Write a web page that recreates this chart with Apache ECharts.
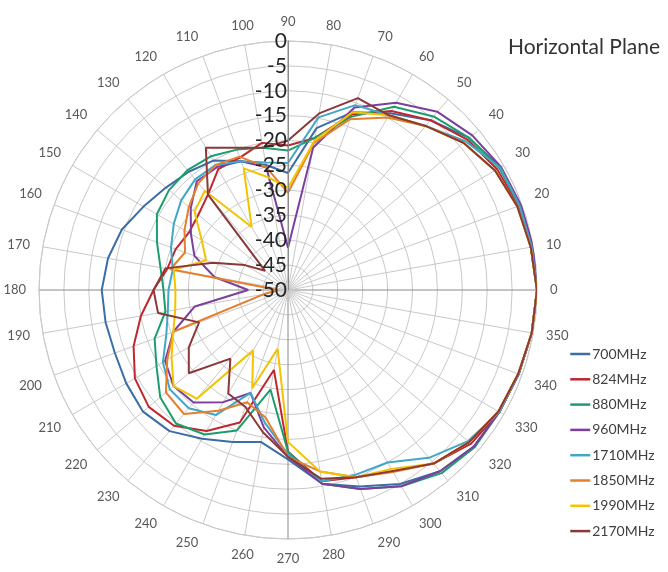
<!DOCTYPE html>
<html><head><meta charset="utf-8">
<script src="https://cdn.jsdelivr.net/npm/echarts@6/dist/echarts.min.js"></script>
<style>html,body{margin:0;padding:0;background:#fff}#c{width:668px;height:572px}</style>
</head><body><div id="c"></div>
<script>
const angles = [0,10,20,30,40,50,60,70,80,90,100,110,120,130,140,150,160,170,180,190,200,210,220,230,240,250,260,270,280,290,300,310,320,330,340,350];
const seriesNames = ['700MHz','824MHz','880MHz','960MHz','1710MHz','1850MHz','1990MHz','2170MHz'];
const v700  = [0,0,-0.5,-0.8,-2.5,-5.5,-9,-12,-17,-26.5,-24.5,-22.5,-20,-19,-18,-16.5,-14.5,-13.3,-12.6,-12.8,-13,-12.5,-12,-13,-15.5,-17.5,-19,-16,-10.5,-8,-5,-2.5,-1.2,-1,-0.7,-0.3];
const v824  = [0,-0.5,-0.7,-1.5,-3,-5.5,-8.5,-12.5,-19,-21,-20,-21.7,-22,-25,-26.5,-27,-26,-25.4,-23,-20,-17,-14.5,-13.5,-14.4,-17.3,-21.7,-33.7,-17.5,-11,-10,-8,-4.5,-2,-1,-0.7,-0.3];
const v880  = [0,-0.5,-0.5,-1,-2.5,-4.5,-7.5,-13,-19,-22,-21,-20,-19,-18.6,-18.8,-19.6,-22,-24,-25,-25,-21.5,-19.5,-16.5,-15,-16.5,-20,-29.7,-17.5,-10.5,-7.5,-4.5,-2,-1,-1,-0.7,-0.3];
const v960  = [0,0,-0.2,-0.6,-1.7,-3.3,-6.6,-11,-21,-41.5,-25,-22.5,-21.5,-21.5,-24.5,-27.5,-30,-35,-42,-31,-25.5,-21.5,-20,-20.5,-24,-28,-22,-16.5,-10.5,-7.5,-4.5,-2.5,-1.2,-1,-0.7,-0.3];
const v1710 = [0,-0.3,-0.5,-0.8,-3.5,-7,-9.5,-10.5,-14.8,-24.5,-24,-22.5,-21,-21,-22,-23.5,-25,-26.5,-26,-25.5,-24,-21,-19,-19,-21,-28,-23,-17,-11,-10.5,-10,-6,-2.8,-1,-0.7,-0.3];
const v1850 = [0,-0.5,-1,-2,-4,-7,-10,-13.5,-20,-30.5,-25,-21.5,-21,-22,-24,-26,-28,-26,-48,-45,-25.5,-22,-18,-17.5,-22,-26,-24,-16.5,-13,-10,-7.8,-4.5,-2.5,-1.2,-0.8,-0.3];
const v1990 = [0,-0.5,-1,-2,-4,-7,-9.5,-12,-19.6,-29.5,-27,-24,-35.4,-24,-25.5,-30,-32.5,-26.7,-27.4,-27,-25.5,-23,-20,-21.5,-36,-29,-38,-19.5,-13,-10,-8.5,-4.5,-2.5,-1.2,-0.8,-0.3];
const v2170 = [0,-0.5,-1,-2,-4,-7,-9.5,-9,-14,-20,-21,-19.6,-17,-25,-44,-40,-34,-25,-23,-23.5,-31,-27,-24,-32,-26,-25,-21,-16.5,-11.5,-10,-8,-4.5,-2.5,-1.2,-0.8,-0.3];
const allValues = [v700,v824,v880,v960,v1710,v1850,v1990,v2170];
const colors = ['#3c6da6','#c0262e','#1c9e6c','#7b3f9e','#40a7c7','#e47f2c','#f3c300','#8c3838'];

const FONT = 'Lato, "Liberation Sans", sans-serif';
function toData(vals){
  const d = angles.map((a,i)=>[vals[i], a]);
  d.push([vals[0], 360]);
  return d;
}
const light = '#c9c9c9', dark = '#8a8a8a';
const chart = echarts.init(document.getElementById('c'), null, {renderer:'canvas'});
chart.setOption({
  animation:false,
  backgroundColor:'#ffffff',
  title:{text:'Horizontal Plane', left:503, top:32, textStyle:{fontSize:21, fontWeight:'normal', color:'#333', fontFamily:FONT}},
  legend:{orient:'vertical', left:564, top:342, itemWidth:20, itemHeight:14, itemGap:11.3,
    itemStyle:{opacity:0}, lineStyle:{width:2.5},
    textStyle:{fontSize:14, color:'#404040', fontFamily:FONT, padding:[0,0,0,-3]}, data:seriesNames},
  polar:[{center:[288,290], radius:249},{center:[288,290], radius:249}],
  angleAxis:[{polarIndex:0, type:'value', min:0, max:360, interval:10, startAngle:0, clockwise:false,
      axisLine:{show:true, lineStyle:{color:light, width:1}}, axisTick:{show:false},
      axisLabel:{margin:13, color:'#595959', fontSize:13, fontFamily:FONT, formatter:v=> v===360?'':String(v)},
      splitLine:{show:true, lineStyle:{color:[dark,light,light,light,light,light,light,light,light], width:1}}},
    {polarIndex:1, type:'value', min:0, max:360, startAngle:90, show:false}],
  radiusAxis:[{polarIndex:0, type:'value', min:-50, max:0, interval:5,
      axisLine:{show:false}, axisTick:{show:false}, axisLabel:{show:false},
      splitLine:{show:true, lineStyle:{color:light, width:1}}},
    {polarIndex:1, type:'value', min:-50, max:0, interval:5, z:5,
      axisLine:{show:true, lineStyle:{color:dark, width:1}}, axisTick:{show:false},
      axisLabel:{show:true, margin:1, color:'#262626', fontSize:21, fontFamily:FONT},
      splitLine:{show:false}}],
  series: allValues.map((vals,i)=>({
    name:seriesNames[i], type:'line', coordinateSystem:'polar', polarIndex:0,
    data:toData(vals), symbol:'none', smooth:false,
    lineStyle:{width:2, color:colors[i]}, itemStyle:{color:colors[i]}
  }))
});
</script></body></html>
